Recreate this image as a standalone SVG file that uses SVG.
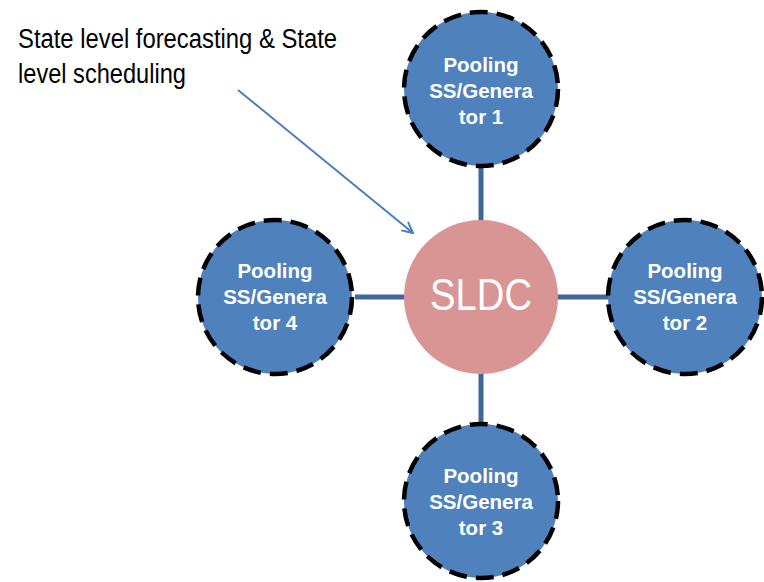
<svg xmlns="http://www.w3.org/2000/svg" width="764" height="582" viewBox="0 0 764 582">
  <defs>
    <style>
      .pool { fill: #4f81bd; stroke: #000; stroke-width: 4.5; stroke-dasharray: 18 9; }
      .pool-label { font-family: "Liberation Sans", Arial, sans-serif; font-weight: bold; font-size: 20.5px; fill: #fff; text-anchor: middle; }
      .link { stroke: #41669a; stroke-width: 5; fill: none; }
      .note { font-family: "Liberation Sans Narrow", "Liberation Sans", Arial, sans-serif; font-size: 27px; fill: #000; }
    </style>
    <marker id="open-arrow" viewBox="0 0 12 12" refX="11" refY="6" markerWidth="13" markerHeight="13" markerUnits="userSpaceOnUse" orient="auto">
      <path d="M1,1 L11,6 L1,11" fill="none" stroke="#4a7ebb" stroke-width="1.8"/>
    </marker>
  </defs>

  <rect width="764" height="582" fill="#fff"/>

  <!-- spokes between SLDC and pooling stations -->
  <g id="connectors">
    <line class="link" x1="481" y1="166" x2="481" y2="222"/>
    <line class="link" x1="481" y1="372" x2="481" y2="426"/>
    <line class="link" x1="355" y1="297" x2="405" y2="297"/>
    <line class="link" x1="557" y1="297" x2="609" y2="297"/>
    <line x1="238" y1="90" x2="413" y2="233" stroke="#4a7ebb" stroke-width="2" marker-end="url(#open-arrow)"/>
  </g>

  <g id="annotation">
    <text class="note" x="18" y="48" textLength="319" lengthAdjust="spacingAndGlyphs">State level forecasting &amp; State</text>
    <text class="note" x="18" y="83" textLength="168" lengthAdjust="spacingAndGlyphs">level scheduling</text>
  </g>

  <g id="sldc">
    <circle cx="481" cy="297" r="77" fill="#d99594"/>
    <text x="481" y="310" font-family="Liberation Sans, Arial, sans-serif" font-size="44" fill="#fff" text-anchor="middle" textLength="102" lengthAdjust="spacingAndGlyphs">SLDC</text>
  </g>

  <g id="pool1">
    <circle class="pool" cx="481" cy="89" r="77"/>
    <text class="pool-label" x="481" y="72">Pooling</text>
    <text class="pool-label" x="481" y="98">SS/Genera</text>
    <text class="pool-label" x="481" y="124">tor 1</text>
  </g>

  <g id="pool2">
    <circle class="pool" cx="685" cy="297" r="77"/>
    <text class="pool-label" x="685" y="278">Pooling</text>
    <text class="pool-label" x="685" y="304">SS/Genera</text>
    <text class="pool-label" x="685" y="330">tor 2</text>
  </g>

  <g id="pool3">
    <circle class="pool" cx="481" cy="501" r="77"/>
    <text class="pool-label" x="481" y="483">Pooling</text>
    <text class="pool-label" x="481" y="509">SS/Genera</text>
    <text class="pool-label" x="481" y="535">tor 3</text>
  </g>

  <g id="pool4">
    <circle class="pool" cx="275" cy="297" r="77"/>
    <text class="pool-label" x="275" y="278">Pooling</text>
    <text class="pool-label" x="275" y="304">SS/Genera</text>
    <text class="pool-label" x="275" y="330">tor 4</text>
  </g>
</svg>
